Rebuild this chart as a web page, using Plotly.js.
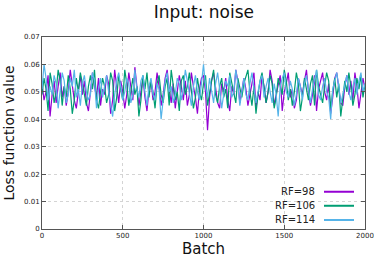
<!DOCTYPE html>
<html>
<head>
<meta charset="utf-8">
<script src="https://cdn.plot.ly/plotly-3.0.1.min.js"></script>
<style>html,body{margin:0;padding:0;background:#fff;}#chart{width:374px;height:260px;}</style>
</head>
<body>
<div id="chart"></div>
<script>
// Sampling grid of the batch axis
const batchStart = 0;
const batchStep = 12.5;

const seriesNames = ["RF=98", "RF=106", "RF=114"];
const seriesColors = ["#9400d3", "#009e73", "#56b4e9"];

const rf98 = [
.053,.047,.050,.056,.041,.049,.054,.046,.052,.057,
.048,.052,.045,.050,.058,.053,.047,.044,.051,.056,
.049,.054,.046,.043,.050,.057,.052,.048,.055,.045,
.051,.049,.056,.053,.042,.047,.058,.051,.046,.054,
.050,.044,.049,.057,.052,.047,.059,.053,.045,.050,
.055,.048,.043,.051,.054,.047,.050,.057,.052,.045,
.049,.055,.058,.051,.046,.053,.044,.050,.056,.052,
.047,.054,.045,.049,.057,.052,.048,.042,.051,.055,
.056,.050,.036,.048,.054,.057,.051,.046,.044,.053,
.050,.055,.047,.043,.052,.049,.058,.054,.046,.050,
.055,.051,.045,.049,.053,.057,.044,.050,.047,.056,
.052,.046,.050,.058,.054,.045,.049,.052,.056,.043,
.050,.053,.057,.048,.051,.044,.047,.055,.052,.049,
.054,.058,.050,.045,.049,.056,.043,.051,.054,.057,
.050,.047,.053,.042,.048,.055,.057,.051,.046,.045,
.052,.056,.049,.054,.047,.057,.052,.044,.050,.055,
.051];

const rf106 = [
.049,.055,.051,.043,.057,.053,.046,.050,.058,.054,
.045,.052,.048,.056,.051,.042,.047,.055,.050,.057,
.053,.049,.045,.052,.056,.051,.058,.047,.044,.050,
.055,.052,.046,.049,.057,.054,.043,.048,.056,.051,
.047,.058,.053,.045,.050,.055,.049,.052,.041,.047,
.056,.051,.057,.048,.054,.050,.044,.053,.056,.049,
.046,.052,.055,.045,.058,.053,.047,.050,.043,.054,
.056,.049,.052,.057,.051,.044,.048,.055,.050,.047,
.053,.056,.045,.050,.054,.058,.049,.046,.052,.055,
.048,.051,.044,.057,.053,.049,.046,.055,.051,.048,
.053,.056,.058,.050,.045,.052,.042,.049,.054,.057,
.051,.046,.050,.056,.053,.044,.048,.055,.052,.049,
.058,.054,.047,.051,.045,.050,.057,.053,.043,.048,
.055,.051,.047,.053,.056,.045,.058,.052,.049,.046,
.052,.057,.054,.044,.050,.055,.048,.053,.041,.047,
.054,.050,.057,.052,.045,.049,.055,.051,.056,.048,
.053];

const rf114 = [
.051,.060,.055,.047,.052,.049,.056,.053,.044,.050,
.057,.054,.046,.049,.055,.052,.058,.048,.051,.045,
.053,.056,.050,.047,.049,.057,.054,.044,.051,.055,
.048,.052,.056,.050,.046,.041,.049,.054,.057,.052,
.047,.050,.055,.053,.046,.049,.058,.051,.048,.054,
.056,.050,.045,.052,.055,.049,.047,.053,.051,.040,
.048,.054,.057,.050,.052,.046,.049,.055,.053,.047,
.051,.058,.054,.049,.045,.052,.056,.050,.047,.053,
.060,.052,.048,.055,.050,.046,.053,.057,.051,.044,
.049,.054,.052,.056,.048,.050,.058,.053,.045,.051,
.055,.049,.047,.053,.057,.051,.046,.050,.054,.056,
.048,.052,.055,.050,.046,.053,.049,.041,.052,.055,
.057,.050,.048,.054,.051,.045,.049,.055,.052,.047,
.053,.056,.050,.046,.051,.054,.058,.049,.047,.052,
.055,.050,.048,.040,.051,.054,.057,.052,.046,.049,
.053,.056,.050,.047,.052,.055,.049,.054,.057,.050,
.053];

const xTicks = [0, 500, 1000, 1500, 2000];
const yTicks = [0, 0.01, 0.02, 0.03, 0.04, 0.05, 0.06, 0.07];
const yTickText = ["0", "0.01", "0.02", "0.03", "0.04", "0.05", "0.06", "0.07"];

const allSeries = [rf98, rf106, rf114];
const traces = allSeries.map((ys, i) => ({
  type: "scatter",
  mode: "lines",
  name: seriesNames[i],
  x0: batchStart,
  dx: batchStep,
  y: ys,
  line: {color: seriesColors[i], width: 1.2},
  showlegend: false,
  hoverinfo: "skip"
}));

const font = "DejaVu Sans, sans-serif";
const axisCommon = {
  showline: true, linecolor: "#555", linewidth: 1, mirror: "ticks",
  ticks: "inside", ticklen: 4, tickcolor: "#555",
  showgrid: true, gridcolor: "#d4d4d4", griddash: "dot", gridwidth: 1,
  zeroline: false,
  tickfont: {family: font, size: 7, color: "#222"},
};

// Legend drawn gnuplot-style: right-aligned text, sample line to the right
const legendY = [0.194, 0.121, 0.047];
const annotations = seriesNames.map((n, i) => ({
  xref: "paper", yref: "paper", x: 0.85, y: legendY[i],
  xanchor: "right", yanchor: "middle", text: n, showarrow: false,
  font: {family: font, size: 10, color: "#222"}
}));
const shapes = seriesNames.map((n, i) => ({
  type: "line", xref: "paper", yref: "paper",
  x0: 0.873, x1: 0.966, y0: legendY[i], y1: legendY[i],
  line: {color: seriesColors[i], width: 2}
}));

const layout = {
  width: 374, height: 260,
  margin: {l: 42, r: 9, t: 37, b: 31},
  paper_bgcolor: "#fff", plot_bgcolor: "#fff",
  title: {text: "Input: noise", font: {family: font, size: 17, color: "#111"},
          x: 0.545, xanchor: "center", y: 0.955, yanchor: "middle", yref: "container"},
  xaxis: Object.assign({}, axisCommon, {
    range: [0, 2000], tickvals: xTicks, ticktext: xTicks.map(String),
    title: {text: "Batch", font: {family: font, size: 15, color: "#111"}, standoff: 2}
  }),
  yaxis: Object.assign({}, axisCommon, {
    range: [0, 0.07], tickvals: yTicks, ticktext: yTickText,
    title: {text: "Loss function value", font: {family: font, size: 14, color: "#111"}, standoff: 6}
  }),
  annotations: annotations,
  shapes: shapes,
  showlegend: false
};

Plotly.newPlot("chart", traces, layout, {displayModeBar: false, staticPlot: true});
</script>
</body>
</html>
